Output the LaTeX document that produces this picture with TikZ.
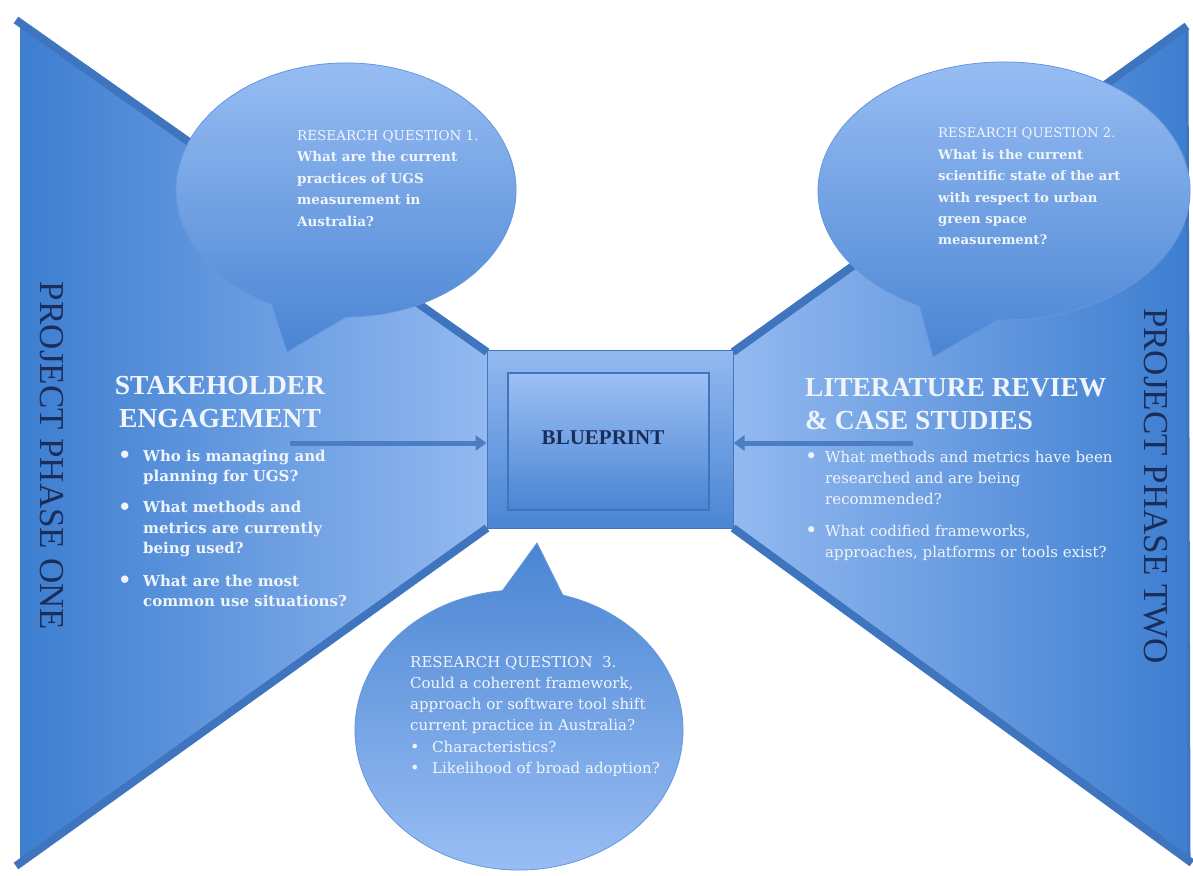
\documentclass[tikz,border=0pt]{standalone}
\usepackage{fontspec}
\setmainfont{DejaVu Serif}
\newfontfamily\headfont{Liberation Serif}
\usetikzlibrary{arrows.meta}
\definecolor{polydark}{HTML}{3D7ED0}
\definecolor{polylight}{HTML}{93B9F0}
\definecolor{band}{HTML}{3F75BE}
\definecolor{bublight}{HTML}{9CC0F5}
\definecolor{bubdark}{HTML}{4A85D3}
\definecolor{bubedge}{HTML}{6497DE}
\definecolor{txtlight}{HTML}{F0F5FC}
\definecolor{navy}{HTML}{1A2E5C}
\definecolor{arrowc}{HTML}{4A7DC4}
\newcommand{\bul}{\raisebox{-1.5pt}{\fontsize{21}{21}\selectfont\textbullet}}
\newcommand{\sbul}{\raisebox{-0.5pt}{\fontsize{16}{16}\selectfont\textbullet}}
\begin{document}
\begin{tikzpicture}[x=1pt,y=-1pt,
  bandline/.style={band, line width=8pt},
  bubble/.style={draw=bubedge, line width=0.8pt},
  phase/.style={font=\headfont\fontsize{35}{35}\selectfont, text=navy, rotate=-90, inner sep=0pt},
  heading/.style={font=\headfont\bfseries\fontsize{27.5}{33.5}\selectfont, text=txtlight, inner sep=0pt},
  qtext/.style={text=txtlight, align=left, anchor=north west, inner sep=0pt},
  feed/.style={arrowc, line width=5pt, -{Triangle[length=11pt,width=15pt]}}
]
\useasboundingbox (0,0) rectangle (1193,875);
\fill[white] (0,0) rectangle (1193,875);

% left wing
\shade[left color=polydark, right color=polylight] (20,22) -- (487,352) -- (487,528) -- (20,866) -- cycle;
\draw[bandline] (16,20) -- (487,352);
\draw[bandline] (16,866) -- (487,528);

% right wing
\shade[left color=polylight, right color=polydark] (733,352) -- (1186,28) -- (1189,862) -- (733,528) -- cycle;
\draw[bandline] (1187,26) -- (733,352);
\draw[bandline] (1192,863) -- (733,528);
\draw[band, line width=3pt] (1187,30) -- (1189,860);

% centre box
\node (frame) [shade, top color=polylight, bottom color=bubdark, draw=band, line width=1pt,
  minimum width=246pt, minimum height=178pt, inner sep=0pt] at (610,439) {};
\node (bp) [shade, top color=bublight, bottom color=bubdark, draw=band, line width=1.5pt,
  minimum width=201pt, minimum height=137pt, inner sep=0pt] at (608.5,441.5) {};
\node (bpt) [font=\headfont\bfseries\fontsize{21}{21}\selectfont, text=navy, inner sep=0pt] at (603,438) {BLUEPRINT};

% bubbles
\shadedraw[bubble, top color=bublight, bottom color=bubdark]
  (287,352) -- (271.5,304.1) arc[start angle=116, end angle=450, x radius=170, y radius=127] -- cycle;
\shadedraw[bubble, top color=bublight, bottom color=bubdark]
  (933,357) -- (919.6,305.9) arc[start angle=117, end angle=452, x radius=186, y radius=129] -- cycle;
\shadedraw[bubble, top color=bubdark, bottom color=bublight]
  (537,543) -- (562.8,595.1) arc[start angle=285.5, end angle=624.2, x radius=164, y radius=140] -- cycle;

% bubble texts
\node (q1) [qtext, font=\fontsize{13.5}{21.5}\selectfont] at (297,130)
  {RESEARCH QUESTION 1.\\\textbf{What are the current}\\\textbf{practices of UGS}\\\textbf{measurement in}\\\textbf{Australia?}};
\node (q2) [qtext, font=\fontsize{13.2}{21.4}\selectfont] at (938,128)
  {RESEARCH QUESTION 2.\\\textbf{What is the current}\\\textbf{scientific state of the art}\\\textbf{with respect to urban}\\\textbf{green space}\\\textbf{measurement?}};
\node (q3) [qtext, font=\fontsize{15}{21.2}\selectfont] at (410,656)
  {RESEARCH QUESTION\ \ 3.\\Could a coherent framework,\\approach or software tool shift\\current practice in Australia?\\
   \makebox[22pt][l]{\sbul}Characteristics?\\\makebox[22pt][l]{\sbul}Likelihood of broad adoption?};

% headings
\node (sh) [heading, align=center] at (220,402) {STAKEHOLDER\\ENGAGEMENT};
\node (lr) [heading, align=left, anchor=north west] at (805,378) {LITERATURE REVIEW\\\& CASE STUDIES};

% bullet lists
\node (lb) [qtext, font=\bfseries\fontsize{15}{20.5}\selectfont] at (118,449.5)
  {\makebox[25pt][l]{\bul}Who is managing and\\\hspace*{25pt}planning for UGS?\\[10.5pt]
   \makebox[25pt][l]{\bul}What methods and\\\hspace*{25pt}metrics are currently\\\hspace*{25pt}being used?\\[12pt]
   \makebox[25pt][l]{\bul}What are the most\\\hspace*{25pt}common use situations?};
\node (rb) [qtext, font=\fontsize{15}{21}\selectfont] at (805,450.5)
  {\makebox[20pt][l]{\bul}What methods and metrics have been\\\hspace*{20pt}researched and are being\\\hspace*{20pt}recommended?\\[11pt]
   \makebox[20pt][l]{\bul}What codified frameworks,\\\hspace*{20pt}approaches, platforms or tools exist?};

% phase labels
\node (p1) [phase] at (52,456) {PROJECT PHASE ONE};
\node (p2) [phase] at (1156,486) {PROJECT PHASE TWO};

% feed arrows
\coordinate (ls) at (290,443);
\coordinate (rs) at (913,443);
\draw[feed] (ls) -- (frame.west |- ls);
\draw[feed] (rs) -- (frame.east |- rs);
\end{tikzpicture}
\end{document}
